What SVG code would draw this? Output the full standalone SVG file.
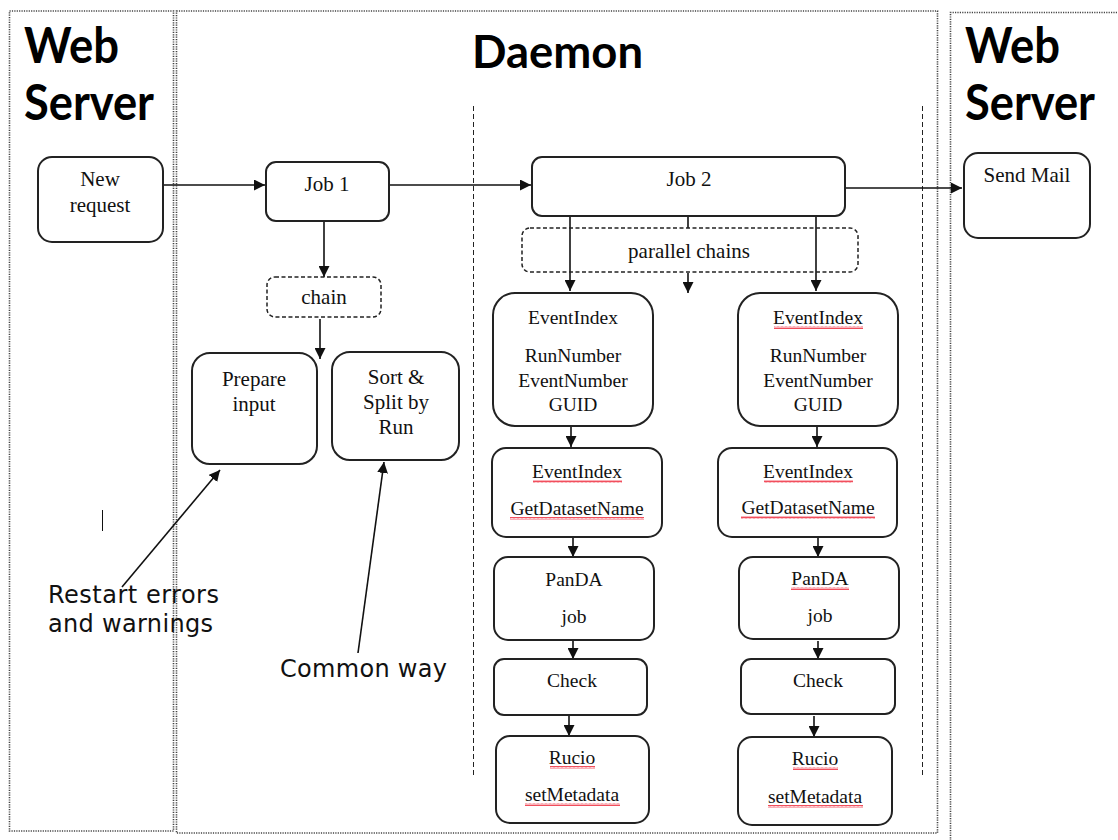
<svg xmlns="http://www.w3.org/2000/svg" width="1118" height="840" viewBox="0 0 1118 840">
<defs>
<style>
.panel{fill:none;stroke:#444;stroke-width:1.6;stroke-dasharray:1.2 1.2}
.vdash{fill:none;stroke:#222;stroke-width:1;stroke-dasharray:5 3}
.box{fill:#fff;stroke:#222;stroke-width:2}
.dbox{fill:none;stroke:#222;stroke-width:1.5;stroke-dasharray:4 2.5}
.t{font-family:"Liberation Serif","Times New Roman",serif;font-size:19.5px;fill:#111;text-anchor:middle}
.t2{font-family:"Liberation Serif","Times New Roman",serif;font-size:21px;fill:#111;text-anchor:middle}
.title{font-family:Lato,"Open Sans",sans-serif;font-weight:bold;fill:#000}
.note{font-family:"DejaVu Sans",Verdana,sans-serif;font-size:24px;fill:#111}
.conn{fill:none;stroke:#111;stroke-width:1.6}
.sq{fill:url(#wave)}
</style>
<marker id="ah" viewBox="0 0 10 10" refX="10" refY="5" markerWidth="11" markerHeight="11" markerUnits="userSpaceOnUse" orient="auto">
<path d="M0,0 L10,5 L0,10 z" fill="#111"/>
</marker>
<pattern id="wave" width="4" height="3" patternUnits="userSpaceOnUse">
<path d="M0,2.5 L1,0.5 L2,2.5 L3,0.5 L4,2.5" fill="none" stroke="#e23" stroke-width="0.8"/>
</pattern>
</defs>

<g id="panels">
<rect class="panel" x="9.5" y="11" width="164" height="820"/>
<rect class="panel" x="176.5" y="11" width="761" height="822"/>
<path class="panel" d="M950.5,848 L950.5,12.5 L1125,12.5"/>
<line class="vdash" x1="473.5" y1="106" x2="473.5" y2="776"/>
<line class="vdash" x1="922.5" y1="106" x2="922.5" y2="775"/>
</g>

<g id="titles">
<text class="title" x="24" y="63" font-size="50" textLength="95" lengthAdjust="spacingAndGlyphs">Web</text>
<text class="title" x="24" y="120" font-size="50" textLength="130" lengthAdjust="spacingAndGlyphs">Server</text>
<text class="title" x="472" y="68" font-size="46" textLength="171" lengthAdjust="spacingAndGlyphs">Daemon</text>
<text class="title" x="965" y="63" font-size="50" textLength="95" lengthAdjust="spacingAndGlyphs">Web</text>
<text class="title" x="965" y="120" font-size="50" textLength="130" lengthAdjust="spacingAndGlyphs">Server</text>
</g>

<g id="connectors">
<line class="conn" x1="163" y1="185" x2="265" y2="185" marker-end="url(#ah)"/>
<line class="conn" x1="389" y1="185" x2="531" y2="185" marker-end="url(#ah)"/>
<line class="conn" x1="845" y1="188" x2="962" y2="188" marker-end="url(#ah)"/>
<line class="conn" x1="324" y1="222" x2="324" y2="277" marker-end="url(#ah)"/>
<line class="conn" x1="320" y1="319" x2="320" y2="359" marker-end="url(#ah)"/>
<line class="conn" x1="688" y1="216" x2="688" y2="228"/>
<line class="conn" x1="688" y1="273" x2="688" y2="293" marker-end="url(#ah)"/>
<line class="conn" x1="570" y1="216" x2="570" y2="291" marker-end="url(#ah)"/>
<line class="conn" x1="816" y1="216" x2="816" y2="291" marker-end="url(#ah)"/>
<line class="conn" x1="571" y1="427" x2="571" y2="447" marker-end="url(#ah)"/>
<line class="conn" x1="573" y1="538" x2="573" y2="557" marker-end="url(#ah)"/>
<line class="conn" x1="573" y1="641" x2="573" y2="659" marker-end="url(#ah)"/>
<line class="conn" x1="569" y1="716" x2="569" y2="736" marker-end="url(#ah)"/>
<line class="conn" x1="817" y1="427" x2="817" y2="447" marker-end="url(#ah)"/>
<line class="conn" x1="818" y1="538" x2="818" y2="557" marker-end="url(#ah)"/>
<line class="conn" x1="818" y1="641" x2="818" y2="659" marker-end="url(#ah)"/>
<line class="conn" x1="814" y1="716" x2="814" y2="737" marker-end="url(#ah)"/>
<line class="conn" x1="122" y1="587" x2="220" y2="470" marker-end="url(#ah)"/>
<line class="conn" x1="358" y1="653" x2="384" y2="462" marker-end="url(#ah)"/>
</g>

<g id="new-request">
<rect class="box" x="38" y="157" width="125" height="85" rx="14"/>
<text class="t2" x="100" y="186">New</text>
<text class="t2" x="100" y="212">request</text>
</g>
<g id="job1">
<rect class="box" x="266" y="162" width="123" height="59" rx="10"/>
<text class="t2" x="327" y="191">Job 1</text>
</g>
<g id="chain">
<rect class="dbox" x="267" y="277" width="114" height="40" rx="8"/>
<text class="t2" x="324" y="304">chain</text>
</g>
<g id="prepare-input">
<rect class="box" x="192" y="353" width="125" height="111" rx="18"/>
<text class="t2" x="254" y="386">Prepare</text>
<text class="t2" x="254" y="411">input</text>
</g>
<g id="sort-split">
<rect class="box" x="332" y="352" width="127" height="108" rx="18"/>
<text class="t2" x="396" y="384">Sort &amp;</text>
<text class="t2" x="396" y="409">Split by</text>
<text class="t2" x="396" y="434">Run</text>
</g>
<g id="job2">
<rect class="box" x="532" y="157" width="313" height="59" rx="10"/>
<text class="t2" x="689" y="186">Job 2</text>
</g>
<g id="parallel-chains">
<rect class="dbox" x="522" y="228" width="336" height="44" rx="8"/>
<text class="t2" x="689" y="258">parallel chains</text>
</g>
<g id="send-mail">
<rect class="box" x="964" y="153" width="126" height="85" rx="14"/>
<text class="t2" x="1027" y="182">Send Mail</text>
</g>

<g id="ei1-left">
<rect class="box" x="493" y="293" width="160" height="133" rx="22"/>
<text class="t" x="573" y="324">EventIndex</text>
<text class="t" x="573" y="362">RunNumber</text>
<text class="t" x="573" y="387">EventNumber</text>
<text class="t" x="573" y="411">GUID</text>
</g>
<g id="ei2-left">
<rect class="box" x="492" y="448" width="170" height="89" rx="14"/>
<text class="t" x="577" y="478">EventIndex</text>
<text class="t" x="577" y="515">GetDatasetName</text>
<rect class="sq" x="533" y="480" width="89" height="3"/>
<rect class="sq" x="510" y="517" width="134" height="3"/>
</g>
<g id="panda-left">
<rect class="box" x="494" y="557" width="160" height="83" rx="14"/>
<text class="t" x="574" y="586">PanDA</text>
<text class="t" x="574" y="623">job</text>
</g>
<g id="check-left">
<rect class="box" x="494" y="659" width="153" height="56" rx="10"/>
<text class="t" x="572" y="687">Check</text>
</g>
<g id="rucio-left">
<rect class="box" x="496" y="736" width="153" height="87" rx="14"/>
<text class="t" x="572" y="764">Rucio</text>
<text class="t" x="572" y="801">setMetadata</text>
<rect class="sq" x="550" y="766" width="45" height="3"/>
<rect class="sq" x="525" y="803" width="95" height="3"/>
</g>

<g id="ei1-right">
<rect class="box" x="738" y="293" width="160" height="133" rx="22"/>
<text class="t" x="818" y="324">EventIndex</text>
<text class="t" x="818" y="362">RunNumber</text>
<text class="t" x="818" y="387">EventNumber</text>
<text class="t" x="818" y="411">GUID</text>
<rect class="sq" x="774" y="326" width="89" height="3"/>
</g>
<g id="ei2-right">
<rect class="box" x="718" y="448" width="179" height="89" rx="14"/>
<text class="t" x="808" y="478">EventIndex</text>
<text class="t" x="808" y="514">GetDatasetName</text>
<rect class="sq" x="764" y="480" width="89" height="3"/>
<rect class="sq" x="741" y="516" width="134" height="3"/>
</g>
<g id="panda-right">
<rect class="box" x="739" y="557" width="160" height="82" rx="14"/>
<text class="t" x="820" y="585">PanDA</text>
<text class="t" x="820" y="622">job</text>
<rect class="sq" x="791" y="587" width="58" height="3"/>
</g>
<g id="check-right">
<rect class="box" x="741" y="659" width="154" height="55" rx="10"/>
<text class="t" x="818" y="687">Check</text>
</g>
<g id="rucio-right">
<rect class="box" x="738" y="737" width="154" height="88" rx="14"/>
<text class="t" x="815" y="765">Rucio</text>
<text class="t" x="815" y="803">setMetadata</text>
<rect class="sq" x="793" y="767" width="45" height="3"/>
<rect class="sq" x="768" y="805" width="95" height="3"/>
</g>

<g id="notes">
<line x1="102.5" y1="510" x2="102.5" y2="531" stroke="#111" stroke-width="1"/>
<text class="note" x="48" y="603" textLength="171" lengthAdjust="spacing">Restart errors</text>
<text class="note" x="48" y="632" textLength="165" lengthAdjust="spacing">and warnings</text>
<text class="note" x="280" y="677" textLength="167" lengthAdjust="spacing">Common way</text>
</g>
</svg>
